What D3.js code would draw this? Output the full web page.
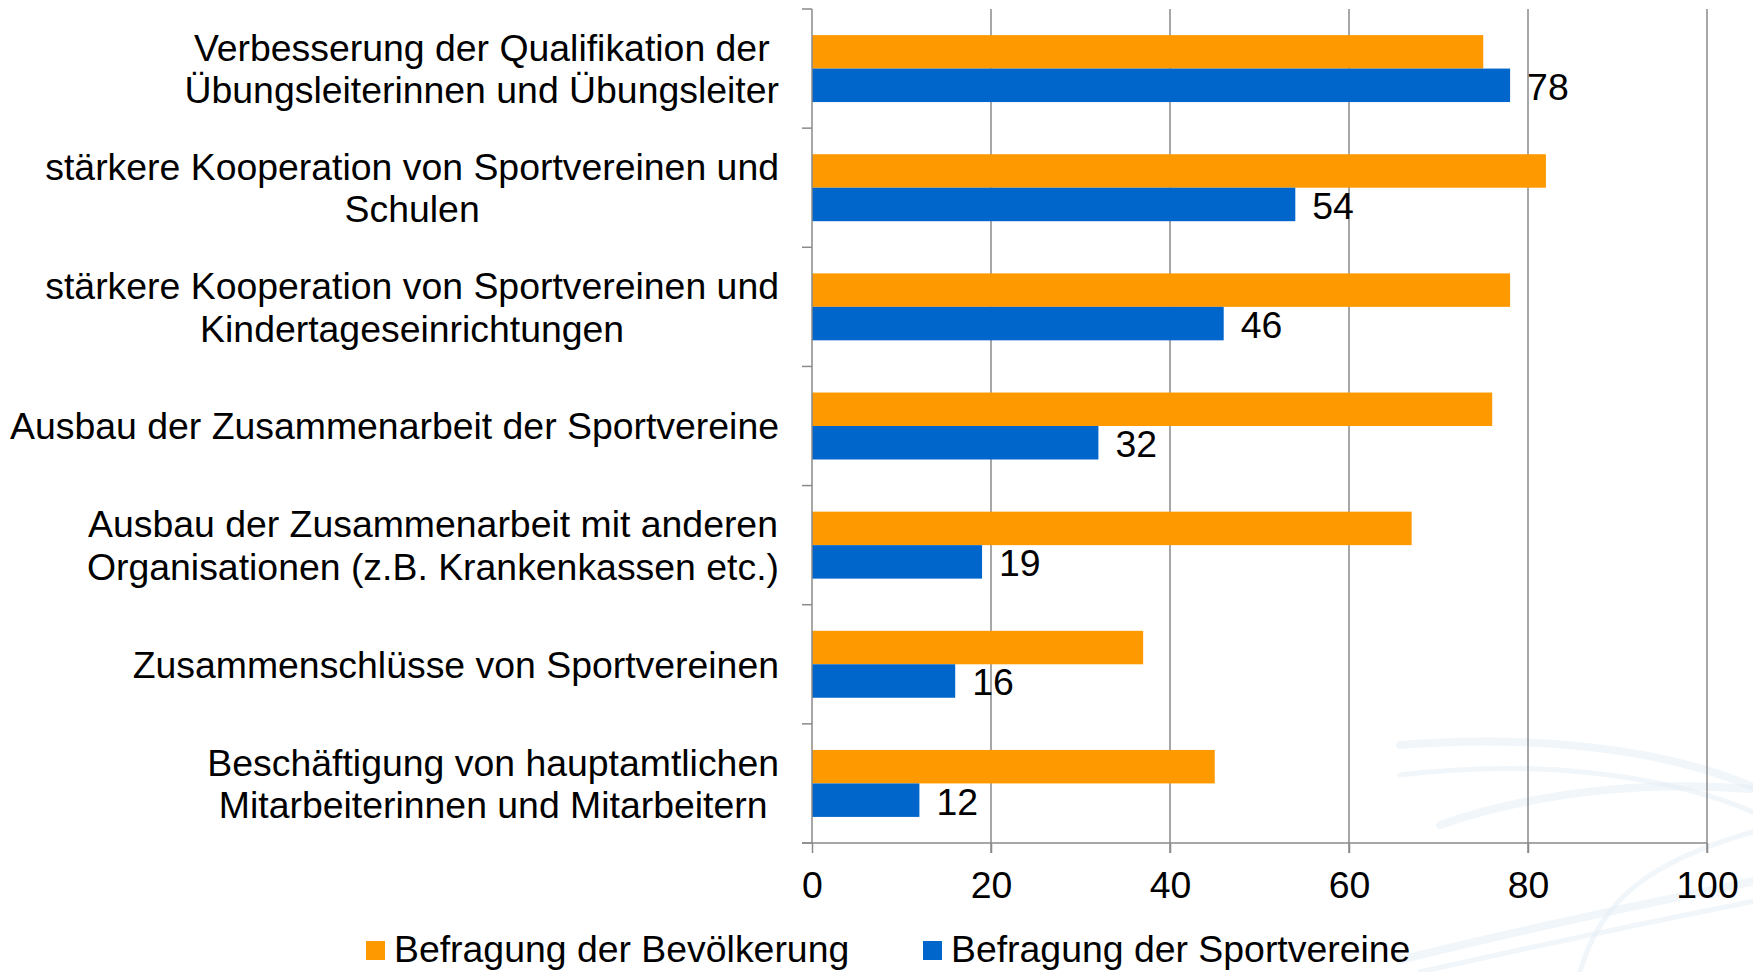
<!DOCTYPE html>
<html>
<head>
<meta charset="utf-8">
<script src="https://cdn.jsdelivr.net/npm/d3@7"></script>
<style>
  html, body { margin: 0; padding: 0; background: #ffffff; }
  svg { display: block; }
  text { font-family: "Liberation Sans", Arial, sans-serif; fill: #000; }
</style>
</head>
<body>
<svg id="chart" width="1753" height="972"></svg>
<script>
// ---- data ----
const categories = [
  ["Verbesserung der Qualifikation der", "Übungsleiterinnen und Übungsleiter"],
  ["stärkere Kooperation von Sportvereinen und", "Schulen"],
  ["stärkere Kooperation von Sportvereinen und", "Kindertageseinrichtungen"],
  ["Ausbau der Zusammenarbeit der Sportvereine"],
  ["Ausbau der Zusammenarbeit mit anderen", "Organisationen (z.B. Krankenkassen etc.)"],
  ["Zusammenschlüsse von Sportvereinen"],
  ["Beschäftigung von hauptamtlichen", "Mitarbeiterinnen und Mitarbeitern"]
];
const seriesNames = ["Befragung der Bevölkerung", "Befragung der Sportvereine"];
const bevoelkerung = [75, 82, 78, 76, 67, 37, 45];
const sportvereine = [78, 54, 46, 32, 19, 16, 12];
const xTicks = [0, 20, 40, 60, 80, 100];
const colors = ["#FF9900", "#0066CC"];

(function () {
// ---- layout ----
const svg = d3.select("#chart");
const pLeft = 812, pRight = 1707, pTop = 9, pBottom = 843;
const fontSize = 37.4;
const gridColor = "#8a8a8a";

const catKeys = categories.map((c, i) => "c" + i);
const y = d3.scaleBand().domain(catKeys).range([pTop, pBottom]).paddingInner(0.438).paddingOuter(0.219);
const ySub = d3.scaleBand().domain([0, 1]).range([0, y.bandwidth()]);
const x = d3.scaleLinear().domain([0, 100]).range([pLeft, pRight]);

// watermark swooshes (decoration)
const wm = svg.append("g").attr("fill", "none").attr("stroke-linecap", "round");
const swooshes = [
  "M1400,745 C1520,735 1660,745 1760,790",
  "M1400,775 C1520,760 1660,770 1760,815",
  "M1440,825 C1540,790 1660,780 1760,790",
  "M1580,972 C1600,900 1650,860 1760,830",
  "M1400,960 C1520,930 1640,905 1760,880",
  "M1420,972 C1540,945 1660,920 1760,900"
];
swooshes.forEach((d, i) => {
  wm.append("path").attr("d", d).attr("stroke", "#e3edf6").attr("stroke-width", i % 2 ? 5 : 8).attr("opacity", 0.5);
});

// gridlines
svg.append("g").selectAll("line").data(xTicks.filter(t => t > 0)).join("line")
  .attr("x1", d => x(d)).attr("x2", d => x(d))
  .attr("y1", pTop).attr("y2", pBottom + 10)
  .attr("stroke", gridColor).attr("stroke-width", 1.5);

// bars
const seriesData = [bevoelkerung, sportvereine];
seriesData.forEach((vals, s) => {
  svg.append("g").selectAll("rect").data(vals).join("rect")
    .attr("x", x(0))
    .attr("y", (d, i) => y(catKeys[i]) + ySub(s))
    .attr("width", d => x(d) - x(0))
    .attr("height", ySub.bandwidth())
    .attr("fill", colors[s]);
});

// value labels (Sportvereine)
svg.append("g").selectAll("text").data(sportvereine).join("text")
  .attr("x", d => x(d) + 17)
  .attr("y", (d, i) => y(catKeys[i]) + ySub(1) + ySub.bandwidth() / 2 + 1)
  .attr("dy", "0.36em")
  .attr("font-size", fontSize)
  .text(d => d);

// y axis line and category ticks
const yAxisG = svg.append("g");
yAxisG.append("line").attr("x1", x(0)).attr("x2", x(0)).attr("y1", pTop).attr("y2", pBottom)
  .attr("stroke", gridColor).attr("stroke-width", 1.5);
const boundaries = catKeys.map(k => y(k) - y.step() * y.paddingInner() / 2).concat([pBottom]);
boundaries[0] = pTop;
yAxisG.selectAll("line.tick").data(boundaries).join("line").attr("class", "tick")
  .attr("x1", x(0) - 10).attr("x2", x(0))
  .attr("y1", d => d).attr("y2", d => d)
  .attr("stroke", gridColor).attr("stroke-width", 1.5);

// x axis
const xAxis = d3.axisBottom(x).tickValues(xTicks).tickSize(10).tickPadding(18);
const xg = svg.append("g").attr("transform", `translate(0,${pBottom})`).call(xAxis);
xg.select(".domain").attr("stroke", gridColor).attr("stroke-width", 1.5).attr("d", `M${x(0) - 10},0H${pRight}`);
xg.selectAll(".tick line").attr("stroke", gridColor).attr("stroke-width", 1.5);
xg.selectAll(".tick text").attr("font-size", fontSize).attr("font-family", "Liberation Sans, Arial, sans-serif").attr("fill", "#000");

// category labels (centered block, right edge at labelRight)
const labelRight = 779;
const lineH = 42.5;
categories.forEach((lines, i) => {
  const cy = y(catKeys[i]) + y.bandwidth() / 2;
  const g = svg.append("g");
  const texts = lines.map((ln, j) => g.append("text")
    .attr("font-size", fontSize)
    .attr("text-anchor", "middle")
    .attr("y", cy + (j - (lines.length - 1) / 2) * lineH)
    .attr("dy", "0.36em")
    .text(ln));
  const maxW = d3.max(texts, t => t.node().getComputedTextLength());
  texts.forEach(t => t.attr("x", labelRight - maxW / 2));
});

// legend
const legendItems = [{x: 366, name: seriesNames[0], c: colors[0]}, {x: 923, name: seriesNames[1], c: colors[1]}];
const lg = svg.append("g");
legendItems.forEach(it => {
  lg.append("rect").attr("x", it.x).attr("y", 941).attr("width", 19).attr("height", 19).attr("fill", it.c);
  lg.append("text").attr("x", it.x + 28).attr("y", 949).attr("dy", "0.36em")
    .attr("font-size", fontSize).text(it.name);
});
})();
</script>
</body>
</html>
